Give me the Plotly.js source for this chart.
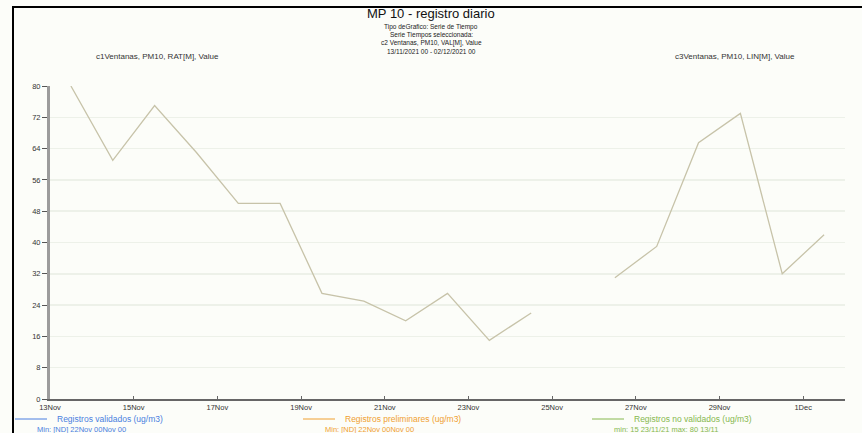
<!DOCTYPE html>
<html>
<head>
<meta charset="utf-8">
<script src="https://cdn.plot.ly/plotly-3.0.1.min.js"></script>
<style>html,body{margin:0;padding:0;background:#fff;}#chart{width:862px;height:433px;}</style>
</head>
<body>
<div id="chart"></div>
<script>
// Daily PM10 values (ug/m3), plotted at midday
const dates = ["2021-11-13 12:00","2021-11-14 12:00","2021-11-15 12:00","2021-11-16 12:00","2021-11-17 12:00","2021-11-18 12:00","2021-11-19 12:00","2021-11-20 12:00","2021-11-21 12:00","2021-11-22 12:00","2021-11-23 12:00","2021-11-24 12:00","2021-11-25 12:00","2021-11-26 12:00","2021-11-27 12:00","2021-11-28 12:00","2021-11-29 12:00","2021-11-30 12:00","2021-12-01 12:00"];
const noValidados = [80, 61, 75, 63, 50, 50, 27, 25, 20, 27, 15, 22, null, 31, 39, 65.5, 73, 32, 42];
const yTicks = [0, 8, 16, 24, 32, 40, 48, 56, 64, 72, 80];
const legendNames = ["Registros validados (ug/m3)", "Registros preliminares (ug/m3)", "Registros no validados (ug/m3)"];
const legendStats = ["Min: [ND] 22Nov 00Nov 00", "Min: [ND] 22Nov 00Nov 00", "min: 15 23/11/21 max: 80 13/11"];
const legendColors = ["#4a7fe0", "#f0a030", "#86b84e"];

const W = 862, H = 433, L = 50, R = 17, T = 86, B = 34;
const pw = W - L - R, ph = H - T - B;
const px = v => (v - L) / pw;
const py = v => (H - B - v) / ph;

const font = "Liberation Sans Narrow, Arial Narrow, Liberation Sans, Arial, sans-serif";

const annotations = [
  {text: "MP 10 - registro diario", x: px(431), y: py(14), size: 13, color: "#111"},
  {text: "Tipo deGrafico: Serie de Tiempo", x: px(431), y: py(27), size: 6.5, color: "#222"},
  {text: "Serie Tiempos seleccionada:", x: px(431), y: py(35), size: 6.5, color: "#222"},
  {text: "c2 Ventanas, PM10, VAL[M], Value", x: px(431), y: py(43), size: 6.5, color: "#222"},
  {text: "13/11/2021 00 - 02/12/2021 00", x: px(431), y: py(51), size: 6.5, color: "#222"},
  {text: "c1Ventanas, PM10, RAT[M], Value", x: px(157), y: py(56), size: 8, color: "#333"},
  {text: "c3Ventanas, PM10, LIN[M], Value", x: px(735), y: py(56), size: 8, color: "#333"}
].map(a => ({text: a.text, x: a.x, y: a.y, xref: "paper", yref: "paper", showarrow: false,
  xanchor: "center", yanchor: "middle", font: {family: font, size: a.size, color: a.color}}));

const shapes = [
  {type: "line", xref: "paper", yref: "paper", x0: px(13), x1: px(13), y0: py(7), y1: py(440), line: {color: "#000", width: 2}},
  {type: "line", xref: "paper", yref: "paper", x0: px(12), x1: px(870), y0: py(7), y1: py(7), line: {color: "#000", width: 2}}
];

const legX = [15, 303, 592];
legendNames.forEach((n, i) => {
  shapes.push({type: "line", xref: "paper", yref: "paper", x0: px(legX[i]), x1: px(legX[i] + 32), y0: py(419), y1: py(419), line: {color: legendColors[i], width: 1}});
  annotations.push({text: n, x: px(legX[i] + 40), y: py(419), xref: "paper", yref: "paper", showarrow: false, xanchor: "left", yanchor: "middle", font: {family: font, size: 8.5, color: legendColors[i]}});
  annotations.push({text: legendStats[i], x: px(legX[i] + 20), y: py(429), xref: "paper", yref: "paper", showarrow: false, xanchor: "left", yanchor: "middle", font: {family: font, size: 7.5, color: legendColors[i]}});
});

const data = [{
  x: dates, y: noValidados, type: "scatter", mode: "lines", connectgaps: false,
  line: {color: "#c7c3a9", width: 1.3}, hoverinfo: "skip", showlegend: false
}];

const layout = {
  width: W, height: H,
  margin: {l: L, r: R, t: T, b: B, pad: 0},
  paper_bgcolor: "#fcfdf9", plot_bgcolor: "#fcfdf9",
  showlegend: false,
  font: {family: font, color: "#333"},
  xaxis: {
    type: "date", range: ["2021-11-13", "2021-12-02"],
    tick0: "2021-11-13", dtick: 2 * 86400000, tickformat: "%-d%b",
    showgrid: false, zeroline: false, showline: true, linecolor: "#666", linewidth: 2,
    ticks: "inside", ticklen: 3, tickcolor: "#666",
    tickfont: {family: font, size: 7.5, color: "#333"}, fixedrange: true
  },
  yaxis: {
    range: [0, 80], tickvals: yTicks, ticktext: yTicks.map(String),
    showgrid: true, gridcolor: "#edf1e9", gridwidth: 1.5, zeroline: false,
    showline: true, linecolor: "#9c9c9c", linewidth: 3,
    ticks: "outside", ticklen: 5, tickcolor: "#555",
    tickfont: {family: font, size: 7.5, color: "#333"}, fixedrange: true
  },
  annotations: annotations,
  shapes: shapes
};

Plotly.newPlot("chart", data, layout, {displayModeBar: false, staticPlot: true});
</script>
</body>
</html>
